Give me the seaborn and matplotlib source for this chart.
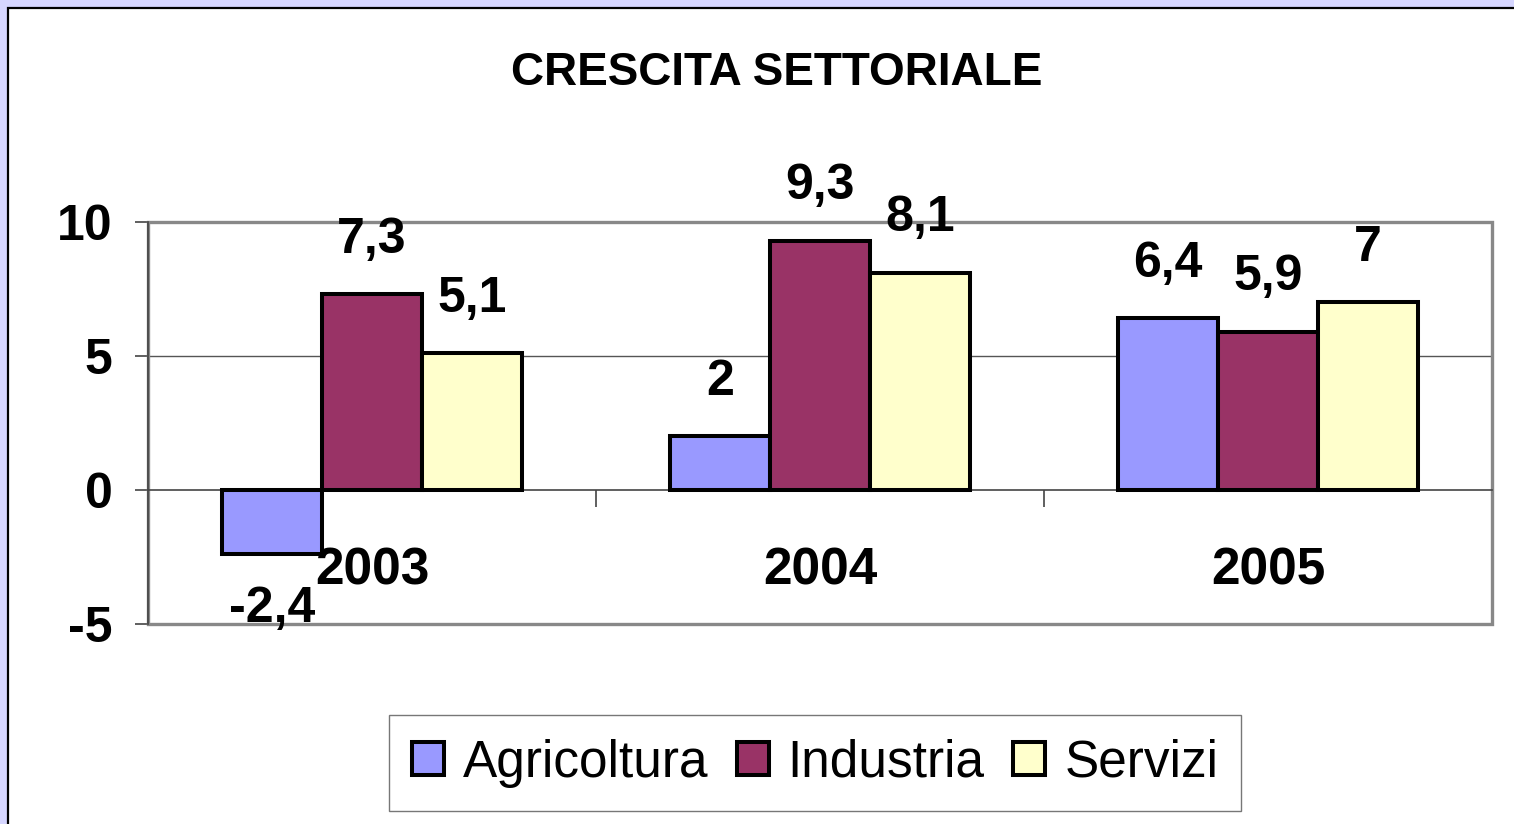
import pandas as pd
import matplotlib.pyplot as plt
import seaborn as sns
from matplotlib.patches import Rectangle

# --- data ---
anni = ["2003", "2004", "2005"]
settori = ["Agricoltura", "Industria", "Servizi"]
agricoltura = [-2.4, 2.0, 6.4]
industria = [7.3, 9.3, 5.9]
servizi = [5.1, 8.1, 7.0]
colori = ["#9999ff", "#993366", "#ffffcc"]
y_ticks = [-5, 0, 5, 10]

df = pd.DataFrame({
    "anno": anni * 3,
    "settore": [s for s in settori for _ in anni],
    "valore": agricoltura + industria + servizi,
})

sns.set_theme(style="white", rc={"text.color": "black", "xtick.color": "black",
                                 "ytick.color": "black", "axes.labelcolor": "black"})
plt.rcParams["font.family"] = ["Liberation Sans", "DejaVu Sans"]

W, H = 1514, 824
fig = plt.figure(figsize=(W / 100, H / 100), dpi=100, facecolor="#d6d6ff")

# white chart area with black frame (lavender strip top/left)
fig.patches.append(Rectangle((8 / W, -0.05), 1.1, 1 - 8 / H + 0.05, transform=fig.transFigure,
                             facecolor="white", edgecolor="black", linewidth=1.6, zorder=-5))

ax = fig.add_axes([148 / W, 1 - 624 / H, (1492 - 148) / W, (624 - 222) / H])
ax.set_facecolor("none")

sns.barplot(data=df, x="anno", y="valore", hue="settore", palette=colori, hue_order=settori,
            width=0.67, gap=0, saturation=1, edgecolor="black", linewidth=2.9, ax=ax, zorder=3)

ax.set_ylim(-5, 10)
ax.set_xlim(-0.5, 2.5)
ax.set_yticks(y_ticks)
ax.set_yticklabels([str(t) for t in y_ticks], fontsize=36, fontweight="bold")
ax.set_xlabel("")
ax.set_ylabel("")

# gridlines
for t in [5]:
    ax.axhline(t, color="#555555", linewidth=1.0, zorder=1)

# plot area frame (grey, Excel-like)
for s in ["top", "right"]:
    ax.spines[s].set_visible(False)
ax.add_patch(Rectangle((0, 0), 1, 1, transform=ax.transAxes, fill=False,
                       edgecolor="#888888", linewidth=2.4, zorder=2, clip_on=False))
ax.spines["left"].set_color("#444444")
ax.spines["left"].set_linewidth(1.2)
ax.spines["left"].set_zorder(4)

# x axis sits on zero
ax.spines["bottom"].set_position(("data", 0))
ax.spines["bottom"].set_color("#444444")
ax.spines["bottom"].set_linewidth(1.2)
ax.set_xticks([-0.5, 0.5, 1.5, 2.5], minor=True)
ax.tick_params(axis="x", which="minor", direction="out", length=12, width=1.2, color="#444444", bottom=True)
ax.tick_params(axis="x", which="major", length=0, pad=41, bottom=True)
ax.set_xticks(range(len(anni)))
ax.set_xticklabels(anni, fontsize=37, fontweight="bold")
for lab in ax.get_xticklabels():
    lab.set_zorder(10)
ax.tick_params(axis="y", which="major", direction="out", length=9.5, width=1.2, color="#444444",
               pad=16, left=True)

# value labels
for cont in ax.containers:
    for bar in cont:
        v = bar.get_height() if bar.get_y() >= 0 else bar.get_y()
        x = bar.get_x() + bar.get_width() / 2
        txt = f"{v:g}".replace(".", ",")
        if v >= 0:
            ax.annotate(txt, (x, v), xytext=(0, 30), textcoords="offset points", ha="center",
                        va="baseline", fontsize=36, fontweight="bold", zorder=10, annotation_clip=False)
        else:
            ax.annotate(txt, (x, v), xytext=(0, -23), textcoords="offset points", ha="center",
                        va="top", fontsize=36, fontweight="bold", zorder=10, annotation_clip=False)

# title
fig.text(777 / W, 1 - 85 / H, "CRESCITA SETTORIALE", ha="center", va="baseline",
         fontsize=33, fontweight="bold")

# legend
handles, labels = ax.get_legend_handles_labels()
ax.get_legend().remove()
leg = fig.legend(handles, labels, loc="center", bbox_to_anchor=(815 / W, 1 - 763 / H), ncol=3,
                 fontsize=37, frameon=True, fancybox=False, shadow=False,
                 handlelength=0.62, handleheight=0.62, handletextpad=0.37, columnspacing=0.56,
                 borderpad=0.45, borderaxespad=0)
leg.get_frame().set_edgecolor("#555555")
leg.get_frame().set_linewidth(1.0)

fig.savefig("out.png", dpi=100, facecolor=fig.get_facecolor())
